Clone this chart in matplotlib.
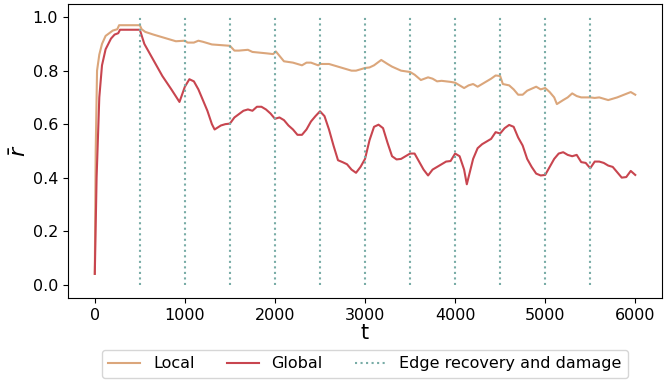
import numpy as np
import matplotlib.pyplot as plt

local_t = [0, 10, 25, 50, 80, 120, 200, 250, 270, 500, 520, 560, 650, 800, 900, 1000,
           1030, 1100, 1150, 1200, 1300, 1500, 1550, 1600, 1700, 1750, 1900, 1980, 2010,
           2100, 2200, 2300, 2350, 2400, 2480, 2500, 2600, 2700, 2800, 2850, 2900, 3000,
           3050, 3100, 3180, 3250, 3300, 3400, 3500, 3550, 3620, 3700, 3750, 3800, 3850,
           3950, 4000, 4050, 4100, 4150, 4200, 4250, 4300, 4400, 4450, 4500, 4530, 4600,
           4650, 4700, 4750, 4800, 4900, 4950, 5000, 5050, 5100, 5130, 5200, 5250, 5300,
           5350, 5400, 5500, 5550, 5600, 5650, 5700, 5800, 5950, 6000]
local_r = [0.04, 0.5, 0.8, 0.86, 0.9, 0.93, 0.95, 0.955, 0.97, 0.97, 0.955, 0.945, 0.935,
           0.92, 0.91, 0.912, 0.905, 0.905, 0.912, 0.908, 0.898, 0.893, 0.875, 0.875, 0.878,
           0.87, 0.865, 0.862, 0.872, 0.835, 0.83, 0.82, 0.83, 0.83, 0.82, 0.825, 0.825,
           0.815, 0.805, 0.8, 0.8, 0.81, 0.812, 0.82, 0.84, 0.825, 0.815, 0.8, 0.795, 0.785,
           0.765, 0.775, 0.77, 0.76, 0.762, 0.758, 0.755, 0.745, 0.735, 0.745, 0.75, 0.74,
           0.75, 0.77, 0.782, 0.78, 0.75, 0.745, 0.73, 0.71, 0.71, 0.725, 0.74, 0.73, 0.735,
           0.72, 0.7, 0.675, 0.69, 0.7, 0.715, 0.705, 0.7, 0.7, 0.698, 0.7, 0.695, 0.69, 0.7,
           0.72, 0.71]

global_t = [0, 20, 50, 80, 120, 180, 220, 260, 280, 500, 550, 650, 750, 850, 940, 1000,
            1050, 1100, 1150, 1200, 1250, 1300, 1330, 1400, 1450, 1500, 1550, 1650, 1700,
            1750, 1800, 1850, 1900, 1950, 2000, 2050, 2100, 2150, 2200, 2250, 2300, 2350,
            2400, 2450, 2500, 2550, 2600, 2650, 2700, 2750, 2800, 2850, 2900, 2950, 3000,
            3050, 3100, 3150, 3200, 3250, 3300, 3350, 3400, 3450, 3500, 3550, 3600, 3650,
            3700, 3750, 3800, 3850, 3900, 3950, 4000, 4050, 4100, 4130, 4200, 4250, 4300,
            4350, 4400, 4450, 4500, 4550, 4600, 4650, 4700, 4750, 4800, 4850, 4900, 4950,
            5000, 5050, 5100, 5150, 5200, 5250, 5300, 5350, 5400, 5450, 5500, 5550, 5600,
            5650, 5700, 5750, 5800, 5850, 5900, 5950, 6000]
global_r = [0.04, 0.4, 0.7, 0.82, 0.88, 0.92, 0.935, 0.94, 0.953, 0.953, 0.9, 0.84, 0.78,
            0.73, 0.683, 0.74, 0.768, 0.76, 0.73, 0.69, 0.65, 0.6, 0.58, 0.595, 0.6, 0.602,
            0.625, 0.65, 0.655, 0.65, 0.665, 0.665, 0.655, 0.64, 0.62, 0.625, 0.615, 0.595,
            0.58, 0.56, 0.56, 0.58, 0.61, 0.63, 0.648, 0.63, 0.58, 0.52, 0.465, 0.458, 0.45,
            0.43, 0.418, 0.44, 0.47, 0.54, 0.59, 0.598, 0.585, 0.53, 0.48, 0.468, 0.47, 0.48,
            0.49, 0.49, 0.46, 0.43, 0.408, 0.43, 0.44, 0.45, 0.46, 0.462, 0.49, 0.48, 0.43,
            0.375, 0.47, 0.51, 0.525, 0.535, 0.545, 0.57, 0.565, 0.585, 0.597, 0.59, 0.55,
            0.52, 0.47, 0.44, 0.415, 0.408, 0.41, 0.44, 0.47, 0.49, 0.495, 0.485, 0.48, 0.485,
            0.458, 0.455, 0.435, 0.46, 0.46, 0.455, 0.445, 0.44, 0.42, 0.4, 0.402, 0.425, 0.41]

events = [500, 1000, 1500, 2000, 2500, 3000, 3500, 4000, 4500, 5000, 5500]

fig, ax = plt.subplots(figsize=(6.71, 3.81), dpi=100)
fig.subplots_adjust(left=0.101, right=0.987, top=0.99, bottom=0.218)

ax.plot(local_t, local_r, color='#dba67b', lw=1.5, label='Local')
ax.plot(global_t, global_r, color='#c8454f', lw=1.5, label='Global')
ax.vlines(events, 0, 1, colors='#78aca6', linestyles=':', lw=1.5,
          label='Edge recovery and damage')

ax.set_xlim(-300, 6300)
ax.set_ylim(-0.05, 1.05)
ax.set_xticks(range(0, 6001, 1000))
ax.set_yticks(np.arange(0, 1.01, 0.2))
ax.tick_params(labelsize=11.5)
ax.set_xlabel('t', fontsize=15, labelpad=0)
ax.set_ylabel(r'$\bar{r}$', fontsize=16, labelpad=2)

ax.legend(loc='upper center', bbox_to_anchor=(0.5, -0.15), ncol=3, fontsize=11.5,
          frameon=True)

fig.savefig('out.png', dpi=100)
